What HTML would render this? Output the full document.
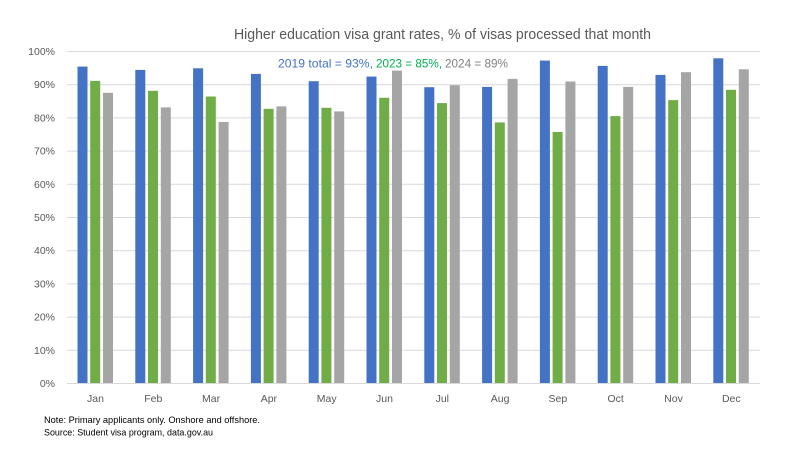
<!DOCTYPE html>
<html><head><meta charset="utf-8"><style>
html,body{margin:0;padding:0;background:#fff;}
svg{display:block;}
text{font-family:"Liberation Sans",Arial,sans-serif;}
</style></head><body>
<svg width="800" height="450" viewBox="0 0 800 450" xmlns="http://www.w3.org/2000/svg">
<rect width="800" height="450" fill="#fff"/>
<text x="234" y="39" font-size="14.5" fill="#595959" textLength="417" lengthAdjust="spacingAndGlyphs">Higher education visa grant rates, % of visas processed that month</text>
<g stroke="#D9D9D9" stroke-width="1">
<line x1="67" x2="760" y1="51.5" y2="51.5"/>
<line x1="67" x2="760" y1="84.7" y2="84.7"/>
<line x1="67" x2="760" y1="117.9" y2="117.9"/>
<line x1="67" x2="760" y1="151.1" y2="151.1"/>
<line x1="67" x2="760" y1="184.3" y2="184.3"/>
<line x1="67" x2="760" y1="217.5" y2="217.5"/>
<line x1="67" x2="760" y1="250.7" y2="250.7"/>
<line x1="67" x2="760" y1="283.9" y2="283.9"/>
<line x1="67" x2="760" y1="317.1" y2="317.1"/>
<line x1="67" x2="760" y1="350.3" y2="350.3"/>
<line x1="67" x2="760" y1="383.5" y2="383.5"/>
</g>
<g font-size="10.5" fill="#595959" text-anchor="end">
<text x="55" y="55">100%</text>
<text x="55" y="88.2">90%</text>
<text x="55" y="121.4">80%</text>
<text x="55" y="154.6">70%</text>
<text x="55" y="187.8">60%</text>
<text x="55" y="221">50%</text>
<text x="55" y="254.2">40%</text>
<text x="55" y="287.4">30%</text>
<text x="55" y="320.6">20%</text>
<text x="55" y="353.8">10%</text>
<text x="55" y="387">0%</text>
</g>
<g fill="#4472C4">
<rect x="77.5" y="66.6" width="10" height="316.4"/>
<rect x="135.3" y="69.9" width="10" height="313.1"/>
<rect x="193.1" y="68.3" width="10" height="314.7"/>
<rect x="250.9" y="73.9" width="10" height="309.1"/>
<rect x="308.7" y="81.2" width="10" height="301.8"/>
<rect x="366.5" y="76.6" width="10" height="306.4"/>
<rect x="424.3" y="87.2" width="10" height="295.8"/>
<rect x="482.1" y="86.9" width="10" height="296.1"/>
<rect x="539.9" y="60.6" width="10" height="322.4"/>
<rect x="597.7" y="65.9" width="10" height="317.1"/>
<rect x="655.5" y="74.9" width="10" height="308.1"/>
<rect x="713.3" y="58.3" width="10" height="324.7"/>
</g>
<g fill="#70AD47">
<rect x="90.2" y="80.9" width="10" height="302.1"/>
<rect x="148" y="90.8" width="10" height="292.2"/>
<rect x="205.8" y="96.5" width="10" height="286.5"/>
<rect x="263.6" y="108.8" width="10" height="274.2"/>
<rect x="321.4" y="107.8" width="10" height="275.2"/>
<rect x="379.2" y="97.8" width="10" height="285.2"/>
<rect x="437" y="103.1" width="10" height="279.9"/>
<rect x="494.8" y="122.4" width="10" height="260.6"/>
<rect x="552.6" y="132" width="10" height="251"/>
<rect x="610.4" y="116.1" width="10" height="266.9"/>
<rect x="668.2" y="100.1" width="10" height="282.9"/>
<rect x="726" y="89.8" width="10" height="293.2"/>
</g>
<g fill="#A5A5A5">
<rect x="103" y="92.8" width="10" height="290.2"/>
<rect x="160.8" y="107.4" width="10" height="275.6"/>
<rect x="218.6" y="122" width="10" height="261"/>
<rect x="276.4" y="106.4" width="10" height="276.6"/>
<rect x="334.2" y="111.4" width="10" height="271.6"/>
<rect x="392" y="70.6" width="10" height="312.4"/>
<rect x="449.8" y="85.2" width="10" height="297.8"/>
<rect x="507.6" y="78.9" width="10" height="304.1"/>
<rect x="565.4" y="81.5" width="10" height="301.5"/>
<rect x="623.2" y="86.9" width="10" height="296.1"/>
<rect x="681" y="72.2" width="10" height="310.8"/>
<rect x="738.8" y="69.3" width="10" height="313.7"/>
</g>
<line x1="67" x2="760" y1="383.5" y2="383.5" stroke="#D9D9D9" stroke-width="1"/>
<g font-size="10.5" fill="#595959" text-anchor="middle">
<text x="95.5" y="402">Jan</text>
<text x="153.3" y="402">Feb</text>
<text x="211.1" y="402">Mar</text>
<text x="268.9" y="402">Apr</text>
<text x="326.7" y="402">May</text>
<text x="384.5" y="402">Jun</text>
<text x="442.3" y="402">Jul</text>
<text x="500.1" y="402">Aug</text>
<text x="557.9" y="402">Sep</text>
<text x="615.7" y="402">Oct</text>
<text x="673.5" y="402">Nov</text>
<text x="731.3" y="402">Dec</text>
</g>
<g font-size="12">
<text x="278" y="67.5" fill="#4472C4" textLength="95" lengthAdjust="spacingAndGlyphs">2019 total = 93%,</text>
<text x="376" y="67.5" fill="#00B050" textLength="66" lengthAdjust="spacingAndGlyphs">2023 = 85%,</text>
<text x="445" y="67.5" fill="#7F7F7F" textLength="63" lengthAdjust="spacingAndGlyphs">2024 = 89%</text>
</g>
<g font-size="9.5" fill="#000">
<text x="44" y="423" textLength="216" lengthAdjust="spacingAndGlyphs">Note: Primary applicants only. Onshore and offshore.</text>
<text x="44" y="435.5" textLength="169" lengthAdjust="spacingAndGlyphs">Source: Student visa program, data.gov.au</text>
</g>
</svg>
</body></html>
